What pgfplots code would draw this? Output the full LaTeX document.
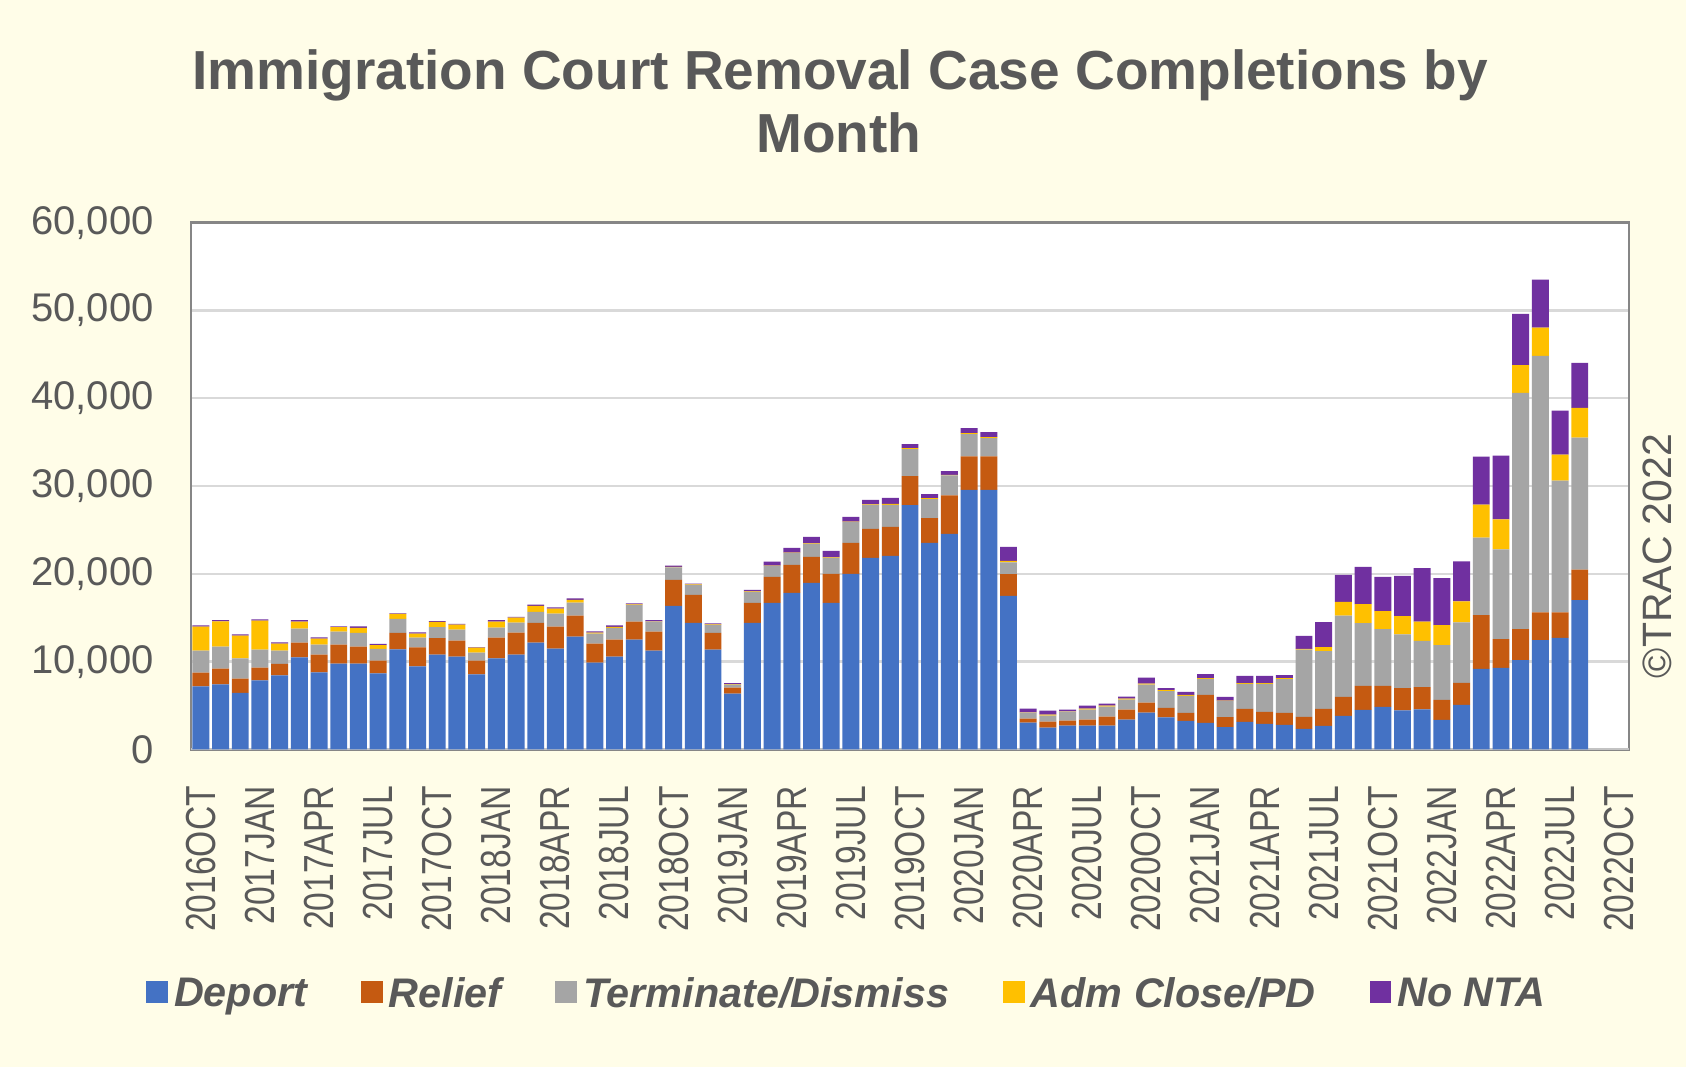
\documentclass[border=0pt]{standalone}
\usepackage{pgfplots}
\usepackage{pgfplotstable}
\pgfplotsset{compat=1.18}
\usepackage{fontspec}
\setmainfont{Liberation Sans}
\newfontfamily\narrowfont[FakeStretch=0.8]{Liberation Sans}
\definecolor{bgcream}{RGB}{255,253,232}
\definecolor{txtgray}{RGB}{89,89,89}
\definecolor{gridgray}{RGB}{217,217,217}
\definecolor{framegray}{RGB}{134,134,134}
\definecolor{cDep}{RGB}{68,114,196}
\definecolor{cRel}{RGB}{197,90,17}
\definecolor{cTerm}{RGB}{165,165,165}
\definecolor{cAdm}{RGB}{255,192,0}
\definecolor{cNon}{RGB}{112,48,160}
\pgfplotstableread{
idx dep rel term adm non
0 7200 1550 2500 2730 150
1 7420 1780 2500 2880 150
2 6440 1630 2310 2580 150
3 7880 1440 2050 3300 150
4 8450 1290 1520 800 150
5 10490 1670 1590 800 190
6 8790 2010 1140 680 150
7 9770 2160 1480 530 80
8 9770 1930 1590 570 150
9 8670 1440 1360 420 150
10 11400 1890 1590 570 50
11 9470 2160 1100 450 150
12 10800 1890 1250 600 80
13 10570 1820 1250 570 80
14 8560 1550 910 570 80
15 10380 2350 1140 680 190
16 10800 2500 1140 570 80
17 12160 2270 1250 680 150
18 11480 2500 1480 570 150
19 12840 2390 1480 340 150
20 9890 2160 1140 110 150
21 10570 1930 1360 110 150
22 12500 2050 1930 50 100
23 11250 2160 1140 50 130
24 16360 2950 1440 50 140
25 14430 3180 1140 50 100
26 11360 1930 910 50 100
27 6360 680 340 50 140
28 14430 2270 1250 50 180
29 16700 2950 1250 50 440
30 17840 3180 1360 50 520
31 18980 2950 1480 50 750
32 16700 3300 1820 50 750
33 20000 3520 2390 50 520
34 21820 3300 2730 50 520
35 22050 3300 2500 110 680
36 27840 3300 3070 110 460
37 23520 2840 2160 110 460
38 24550 4390 2270 50 450
39 29550 3830 2540 110 570
40 29550 3830 2080 110 570
41 17500 2460 1360 150 1590
42 3070 450 680 30 420
43 2500 680 680 110 450
44 2730 570 1020 30 200
45 2730 680 1140 110 340
46 2730 1020 1140 110 230
47 3410 1140 1140 110 230
48 4200 1140 2050 110 680
49 3670 1060 1930 110 230
50 3260 910 1930 110 340
51 3030 3180 1820 110 450
52 2540 1140 1860 30 420
53 3140 1480 2840 110 800
54 2920 1360 3180 110 800
55 2800 1360 3860 110 340
56 2350 1360 7650 110 1480
57 2690 1930 6590 450 2840
58 3830 2160 9240 1590 3070
59 4510 2730 7160 2160 4240
60 4850 2390 6480 2050 3900
61 4460 2520 6130 2070 4580
62 4580 2520 5270 2190 6090
63 3370 2270 6250 2270 5360
64 5070 2510 6900 2390 4540
65 9170 6130 8840 3730 5480
66 9290 3290 10220 3410 7260
67 10180 3530 26900 3160 5840
68 12450 3170 29210 3200 5480
69 12700 2920 15010 2960 4990
70 17000 3490 15010 3410 5110
}\data
\begin{document}
\begin{tikzpicture}
\path[use as bounding box, fill=bgcream] (0pt,0pt) rectangle (505.8pt,320.1pt);
\node[anchor=base, font=\bfseries\fontsize{16.5}{16.5}\selectfont, text=txtgray] at (252pt,293.1pt) {Immigration Court Removal Case Completions by};
\node[anchor=base, font=\bfseries\fontsize{16.5}{16.5}\selectfont, text=txtgray] at (251.7pt,274.2pt) {Month};
\node[rotate=90, font=\fontsize{12.3}{12.3}\selectfont, text=txtgray] at (497.2pt,153.3pt) {©TRAC 2022};
\begin{axis}[
  at={(57.3pt,95.25pt)}, anchor=south west,
  scale only axis, width=431.4pt, height=158.07pt,
  axis background/.style={fill=white},
  ybar stacked, bar width=0.86,
  xmin=-0.5, xmax=72.5, ymin=0, ymax=60000,
  xtick={0,3,...,72},
  xticklabels={2016OCT,2017JAN,2017APR,2017JUL,2017OCT,2018JAN,2018APR,2018JUL,2018OCT,2019JAN,2019APR,2019JUL,2019OCT,2020JAN,2020APR,2020JUL,2020OCT,2021JAN,2021APR,2021JUL,2021OCT,2022JAN,2022APR,2022JUL,2022OCT},
  ytick={0,10000,...,60000},
  scaled y ticks=false,
  /pgf/number format/.cd, 1000 sep={,}, assume math mode=true, /pgfplots/.cd,
  major tick length=0pt,
  tick style={draw=none},
  ymajorgrids, grid style={draw=gridgray, line width=0.75pt},
  axis line style={draw=framegray, line width=0.8pt},
  xticklabel style={font=\narrowfont\fontsize{12.6}{12.6}\selectfont, text=txtgray, rotate=90, anchor=east, inner sep=0pt},
  xticklabel shift=10.8pt,
  yticklabel style={font=\fontsize{12}{12}\selectfont, text=txtgray, anchor=east, inner sep=0pt, xshift=-11pt},
  legend style={at={(0.4555,-0.466)}, anchor=center, draw=none, fill=none,
    font=\bfseries\itshape\fontsize{12.4}{12.4}\selectfont, text=txtgray,
    nodes={inner sep=0pt},
    legend columns=5,
    /tikz/every odd column/.append style={column sep=1.8pt},
    /tikz/every even column/.append style={column sep=16.2pt}},
  legend image code/.code={\fill[#1] (0pt,-2.3pt) rectangle (6.5pt,4.2pt);},
]
\addplot[fill=cDep, draw=none] table[x=idx, y=dep] {\data};
\addplot[fill=cRel, draw=none] table[x=idx, y=rel] {\data};
\addplot[fill=cTerm, draw=none] table[x=idx, y=term] {\data};
\addplot[fill=cAdm, draw=none] table[x=idx, y=adm] {\data};
\addplot[fill=cNon, draw=none] table[x=idx, y=non] {\data};
\legend{Deport, Relief, Terminate/Dismiss, Adm Close/PD, No NTA}
\draw[draw=gridgray!90!black, line width=0.9pt] (rel axis cs:0,0) -- (rel axis cs:1,0);
\end{axis}
\end{tikzpicture}
\end{document}
